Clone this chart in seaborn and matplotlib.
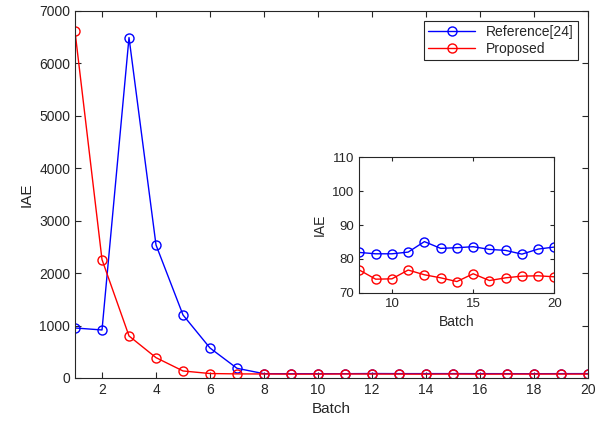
import numpy as np
import pandas as pd
import matplotlib
matplotlib.use('Agg')
import matplotlib.pyplot as plt
import seaborn as sns

# datos
batch = list(range(1, 21))
iae_ref = [954, 916, 6494, 2538, 1202, 572, 185, 81.9, 81.5, 81.5, 82.0, 85.1,
           83.1, 83.3, 83.6, 82.8, 82.5, 81.4, 82.9, 83.5]
iae_prop = [6609, 2258, 802, 388, 134, 85, 78, 76.7, 74.0, 74.1, 76.7, 75.3,
            74.4, 73.3, 75.6, 73.6, 74.4, 74.9, 75.0, 74.7]
nombres = ['Reference[24]', 'Proposed']
colores = ['#0000ff', '#ff0000']

df_ref = pd.DataFrame({'Batch': batch, 'IAE': iae_ref})
df_prop = pd.DataFrame({'Batch': batch, 'IAE': iae_prop})

sns.set_style('ticks')
plt.rcParams['font.family'] = ['Liberation Sans', 'DejaVu Sans']
plt.rcParams['text.color'] = '#262626'
plt.rcParams['axes.labelcolor'] = '#262626'
plt.rcParams['xtick.color'] = '#262626'
plt.rcParams['ytick.color'] = '#262626'

fig = plt.figure(figsize=(6.02, 4.23), dpi=100)
ax = fig.add_axes([0.1246, 0.1064, 0.8521, 0.8676])


def dibujar(ax, df, color, label, ms):
    sns.lineplot(data=df, x='Batch', y='IAE', ax=ax, color=color, label=label,
                 marker='o', markersize=ms, markerfacecolor='none',
                 markeredgecolor=color, markeredgewidth=1.0, linewidth=1.0)


for d, c, n in zip([df_ref, df_prop], colores, nombres):
    dibujar(ax, d, c, n, 6.5)

ax.set_xlim(1, 20)
ax.set_ylim(0, 7000)
ax.set_xticks(range(2, 21, 2))
ax.set_yticks(range(0, 7001, 1000))
ax.set_xlabel('Batch', fontsize=11)
ax.set_ylabel('IAE', fontsize=11)
ax.tick_params(direction='in', top=True, right=True, labelsize=10, length=4)
for s in ax.spines.values():
    s.set_linewidth(0.8)
    s.set_color('#262626')
leg = ax.legend(loc='upper right', fontsize=10, frameon=True, fancybox=False,
                edgecolor='#262626', framealpha=1, handlelength=3.4,
                borderaxespad=0.7, labelspacing=0.2, borderpad=0.3)
leg.get_frame().set_linewidth(0.8)

# grafico interno
axi = fig.add_axes([0.597, 0.308, 0.324, 0.320])
for d, c in zip([df_ref, df_prop], colores):
    dibujar(axi, d[d['Batch'] >= 8], c, None, 6.5)
axi.set_xlim(8, 20)
axi.set_ylim(70, 110)
axi.set_xticks([10, 15, 20])
axi.set_yticks([70, 80, 90, 100, 110])
axi.set_xlabel('Batch', fontsize=10)
axi.set_ylabel('IAE', fontsize=10)
axi.tick_params(direction='in', top=True, right=True, labelsize=9.5, length=3)
for s in axi.spines.values():
    s.set_linewidth(0.8)
    s.set_color('#262626')
if axi.get_legend() is not None:
    axi.get_legend().remove()

fig.savefig('out.png', dpi=100)
